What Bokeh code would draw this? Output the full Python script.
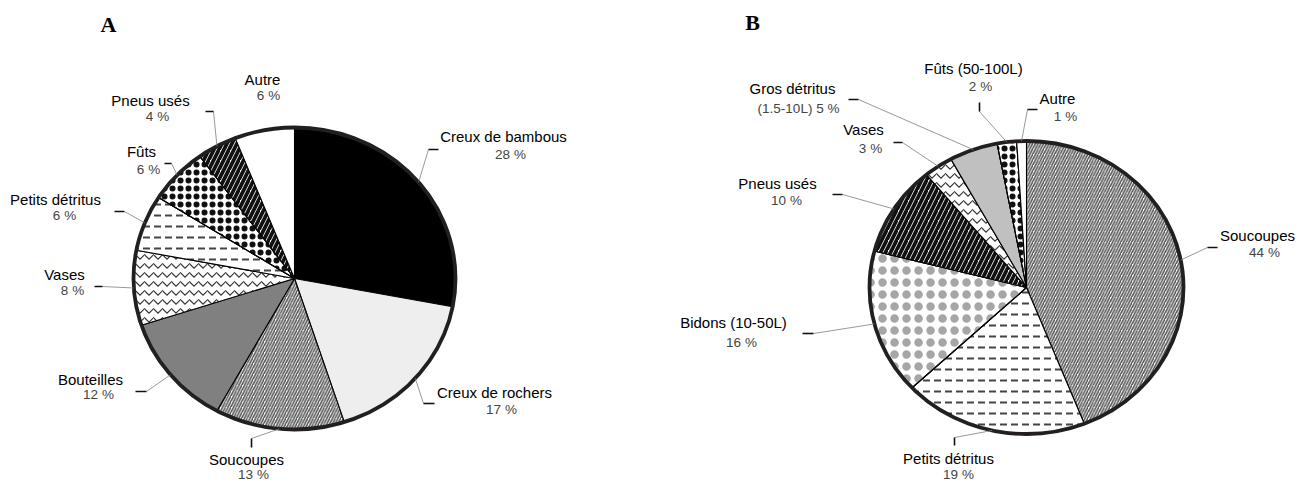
import numpy as np
from bokeh.plotting import figure
from bokeh.layouts import row
from bokeh.models import Range1d
from bokeh.embed import file_html
from bokeh.resources import INLINE
from bokeh.core.properties import value

# ---------------- data ----------------
a_categories = ["Creux de bambous", "Creux de rochers", "Soucoupes", "Bouteilles", "Vases",
                "Petits détritus", "Fûts", "Pneus usés", "Autre"]
a_values = [28, 17, 13, 12, 8, 6, 6, 4, 6]

b_categories = ["Soucoupes", "Petits détritus", "Bidons (10-50L)", "Pneus usés", "Vases",
                "Gros détritus", "Fûts (50-100L)", "Autre"]
b_values = [44, 19, 16, 10, 3, 5, 2, 1]
b_pct_prefix = {"Gros détritus": "(1.5-10L) "}

# ---------------- styles ----------------
a_fill = ["#000000", "#eeeeee", "#ffffff", "#808080", "#ffffff", "#ffffff", "#ffffff", "#ffffff", "#ffffff"]
a_hatch = [None, None, "right_diagonal_line", None, "horizontal_wave", "horizontal_dash", "dot",
           "right_diagonal_line", None]
a_hcolor = [None, None, "#555555", None, "#333333", "#444444", "#111111", "#111111", None]
a_hscale = [None, None, 5.5, None, 9, 11, 8, 10, None]
a_hweight = [None, None, 1.6, None, 1.2, 2.0, 2.0, 3.8, None]
a_ring = [False, False, False, False, False, False, True, False, False]

b_fill = ["#ffffff", "#ffffff", "#ffffff", "#ffffff", "#ffffff", "#c0c0c0", "#ffffff", "#ffffff"]
b_hatch = ["right_diagonal_line", "horizontal_dash", "dot", "right_diagonal_line", "horizontal_wave",
           None, "dot", None]
b_hcolor = ["#555555", "#444444", "#a6a6a6", "#111111", "#333333", None, "#111111", None]
b_hscale = [5.5, 11, 12, 10, 9, None, 8, None]
b_hweight = [1.6, 2.0, 2.5, 3.8, 1.2, None, 2.0, None]
b_ring = [False, False, True, False, False, False, True, False]

# ---------------- layout (page pixel positions) ----------------
A_GEOM = dict(cx=294, cy=278, rx=161, ry=151, left=0, right=648)
B_GEOM = dict(cx=1026, cy=287, rx=157, ry=146.5, left=648, right=1296)
TOP, BOTTOM = 0, 481

a_name_pos = [(503, 136), (494, 392), (246, 459), (90, 379), (64, 274), (55, 199), (141, 151), (150, 100), (262, 79)]
a_pct_pos = [(510, 154), (501, 409), (253, 474), (98, 394), (72, 290), (64, 215), (148, 169), (157, 116), (268, 95)]
a_ticks = [(428, 149, 438, 149), (423, 403, 434, 403), (251, 438, 251, 447), (135, 391, 146, 391),
           (94, 286, 102, 286), (114, 211, 124, 211), (164, 163, 171, 163), (205, 111, 213, 111), None]
a_knee = [(428, 149), (423, 403), (251, 438), (146, 391), (102, 286), (124, 211), (171, 163), (213, 111), None]

b_name_pos = [(1257, 235), (948, 458), (733, 322), (777, 183), (863, 129), (792, 88), (973, 68), (1057, 98)]
b_pct_pos = [(1264, 252), (958, 474), (741, 342), (786, 200), (870, 148), (798, 108), (980, 86), (1065, 116)]
b_ticks = [(1207, 247, 1217, 247), (954, 437, 954, 445), (802, 333, 813, 333), (832, 194, 842, 194),
           (893, 142, 902, 142), (848, 99, 858, 99), (979, 102, 979, 111), (1027, 109, 1037, 109)]
b_knee = [(1207, 247), (954, 437), (813, 333), (842, 194), (902, 142), (858, 99), (979, 111), (1027, 109)]

NAME_FONT = "Liberation Sans"


def make_pie(title, title_pos, cats, vals, fills, hatches, hcolors, hscales, hweights, rings,
             name_pos, pct_pos, ticks, knees, geom, prefix=None):
    cx, cy, rx, ry = geom["cx"], geom["cy"], geom["rx"], geom["ry"]

    def tx(X):
        return (X - cx) / rx

    def ty(Y):
        return (cy - Y) / ry

    width = geom["right"] - geom["left"]
    p = figure(width=width, height=BOTTOM - TOP, output_backend="svg", toolbar_location=None,
               x_range=Range1d(tx(geom["left"]), tx(geom["right"])),
               y_range=Range1d(ty(BOTTOM), ty(TOP)),
               x_axis_location=None, y_axis_location=None, min_border=0,
               background_fill_color="white", border_fill_color="white")
    p.outline_line_color = None
    p.grid.visible = False

    total = float(sum(vals))
    cum = np.concatenate([[0.0], np.cumsum(vals)]) / total * 2 * np.pi
    for i in range(len(vals)):
        t0, t1 = cum[i], cum[i + 1]
        n = max(4, int(np.degrees(t1 - t0) * 2))
        t = np.linspace(t0, t1, n)
        xs = np.concatenate([[0.0], np.sin(t), [0.0]])
        ys = np.concatenate([[0.0], np.cos(t), [0.0]])
        kw = dict(fill_color=fills[i], line_color="black", line_width=1.1)
        if hatches[i]:
            kw.update(hatch_pattern=hatches[i], hatch_color=hcolors[i],
                      hatch_scale=hscales[i], hatch_weight=hweights[i])
        p.patch(xs, ys, **kw)
        if rings[i]:
            p.patch(xs, ys, fill_color=None, line_color="black", line_width=1.1,
                    hatch_pattern="ring", hatch_color=hcolors[i],
                    hatch_scale=hscales[i], hatch_weight=hweights[i])

    p.ellipse(x=0, y=0, width=2, height=2, fill_color=None, line_color="#231f20", line_width=3.8)

    for i in range(len(vals)):
        if ticks[i] is None:
            continue
        mid = (cum[i] + cum[i + 1]) / 2
        ex, ey = np.sin(mid), np.cos(mid)
        kx, ky = knees[i]
        p.line([ex, tx(kx)], [ey, ty(ky)], line_color="#7f7f7f", line_width=0.8)
        x0, y0, x1, y1 = ticks[i]
        p.line([tx(x0), tx(x1)], [ty(y0), ty(y1)], line_color="#111111", line_width=1.6)

    names = list(cats)
    pcts = [((prefix or {}).get(c, "")) + f"{v} %" for c, v in zip(cats, vals)]
    p.text(x=[tx(a) for a, b in name_pos], y=[ty(b) for a, b in name_pos], text=names,
           text_font=value(NAME_FONT), text_font_size=value("15px"), text_color="#000000",
           text_align="center", text_baseline="middle")
    p.text(x=[tx(a) for a, b in pct_pos], y=[ty(b) for a, b in pct_pos], text=pcts,
           text_font=value(NAME_FONT), text_font_size=value("13.5px"), text_color="#444444",
           text_align="center", text_baseline="middle")

    p.text(x=[tx(title_pos[0])], y=[ty(title_pos[1])], text=[title],
           text_font=value("Liberation Serif"), text_font_size=value("22px"), text_font_style="bold",
           text_color="#000000", text_align="center", text_baseline="middle")
    return p


pa = make_pie("A", (108, 24), a_categories, a_values, a_fill, a_hatch, a_hcolor, a_hscale, a_hweight, a_ring,
              a_name_pos, a_pct_pos, a_ticks, a_knee, A_GEOM)
pb = make_pie("B", (752, 22), b_categories, b_values, b_fill, b_hatch, b_hcolor, b_hscale, b_hweight, b_ring,
              b_name_pos, b_pct_pos, b_ticks, b_knee, B_GEOM, prefix=b_pct_prefix)

layout = row(pa, pb, spacing=0)
open("out.html", "w").write(file_html(layout, INLINE))
